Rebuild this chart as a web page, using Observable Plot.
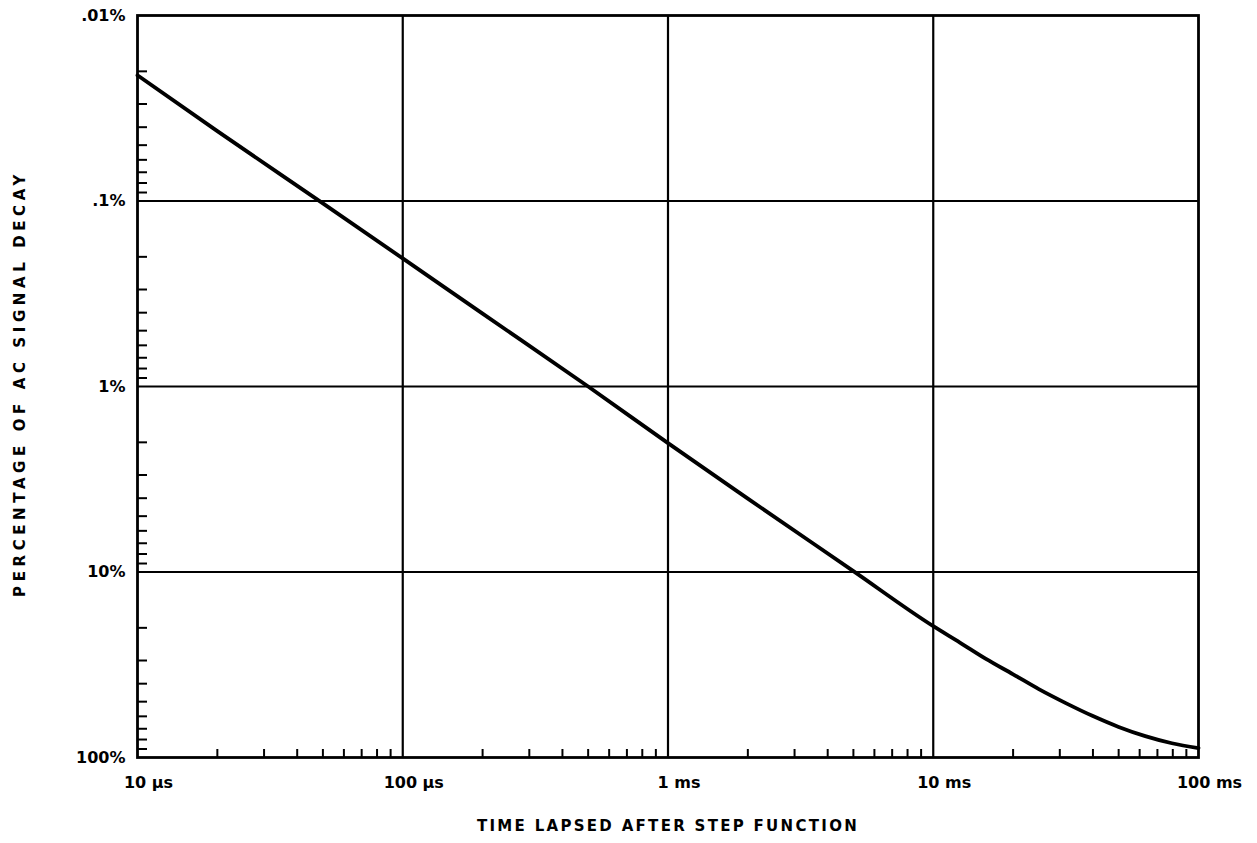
<!DOCTYPE html>
<html><head><meta charset="utf-8">
<script src="https://cdn.jsdelivr.net/npm/d3@7"></script>
<script src="https://cdn.jsdelivr.net/npm/@observablehq/plot@0.6"></script>
<style>
body{margin:0;background:#fff;}
</style></head><body><div id="chart"></div>
<script>
// time after step function, in microseconds
const timeUs = [10, 20, 50, 100, 200, 500, 1000, 2000, 5000, 10000, 12600, 15800, 20000, 25000, 31600, 39800, 50000, 63000, 79400, 100000];
// percentage of AC signal decay
const decayPct = [0.021, 0.042, 0.103, 0.204, 0.405, 1.0, 2.02, 4.02, 9.9, 19.6, 24.0, 29.4, 35.6, 42.8, 50.9, 59.6, 68.4, 76.7, 83.8, 88.9];

const xMajor = [10, 100, 1000, 10000, 100000];
const xMajorLabels = ["10 µs", "100 µs", "1 ms", "10 ms", "100 ms"];
const yMajor = [0.01, 0.1, 1, 10, 100];
const yMajorLabels = [".01%", ".1%", "1%", "10%", "100%"];
const minorMultipliers = [2, 3, 4, 5, 6, 7, 8, 9];
const xTitle = "TIME LAPSED AFTER STEP FUNCTION";
const yTitle = "PERCENTAGE OF AC SIGNAL DECAY";

const xMinor = xMajor.slice(0, -1).flatMap(d => minorMultipliers.map(m => d * m));
const yMinor = yMajor.slice(0, -1).flatMap(d => minorMultipliers.map(m => d * m));
const curveData = timeUs.map((t, i) => ({t, p: decayPct[i]}));
const font = "'DejaVu Sans', sans-serif";

const chart = Plot.plot({
  width: 1257, height: 843,
  marginLeft: 137, marginRight: 59, marginTop: 15, marginBottom: 86,
  style: {fontFamily: font, background: "#fff", color: "#000"},
  x: {type: "log", domain: [10, 100000], label: null},
  y: {type: "log", domain: [0.01, 100], reverse: true, label: null},
  marks: [
    Plot.ruleX(xMajor.slice(1, -1), {stroke: "#000", strokeWidth: 2.2}),
    Plot.ruleY(yMajor.slice(1, -1), {stroke: "#000", strokeWidth: 2}),
    Plot.axisX(xMinor, {anchor: "bottom", tickSize: -8, fill: "none", stroke: "#000", strokeWidth: 2, label: null}),
    Plot.axisY(yMinor, {anchor: "left", tickSize: -10, fill: "none", stroke: "#000", strokeWidth: 2, label: null}),
    Plot.axisX(xMajor, {anchor: "bottom", tickSize: 0, tickPadding: 19, dx: 11,
      tickFormat: d => xMajorLabels[xMajor.indexOf(d)], fontSize: 16, fontWeight: "bold", fill: "#000", label: null}),
    Plot.axisY(yMajor, {anchor: "left", tickSize: 0, tickPadding: 12,
      tickFormat: d => yMajorLabels[yMajor.indexOf(d)], fontSize: 16, fontWeight: "bold", fill: "#000", label: null}),
    Plot.line(curveData, {x: "t", y: "p", curve: "monotone-x", stroke: "#000", strokeWidth: 3.8}),
    Plot.frame({stroke: "#000", strokeWidth: 2.8}),
    Plot.text([xTitle], {frameAnchor: "bottom", dy: 73, fontSize: 15, fontWeight: "bold", fill: "#000"}),
    Plot.text([yTitle], {frameAnchor: "left", textAnchor: "middle", dx: -117, dy: -3, rotate: -90, fontSize: 15, fontWeight: "bold", fill: "#000"})
  ]
});
document.getElementById("chart").appendChild(chart);
d3.select(chart).selectAll("text").filter(function() { return this.textContent === xTitle; }).attr("letter-spacing", "2.3px");
d3.select(chart).selectAll("text").filter(function() { return this.textContent === yTitle; }).attr("letter-spacing", "4.6px");
</script>
</body></html>
